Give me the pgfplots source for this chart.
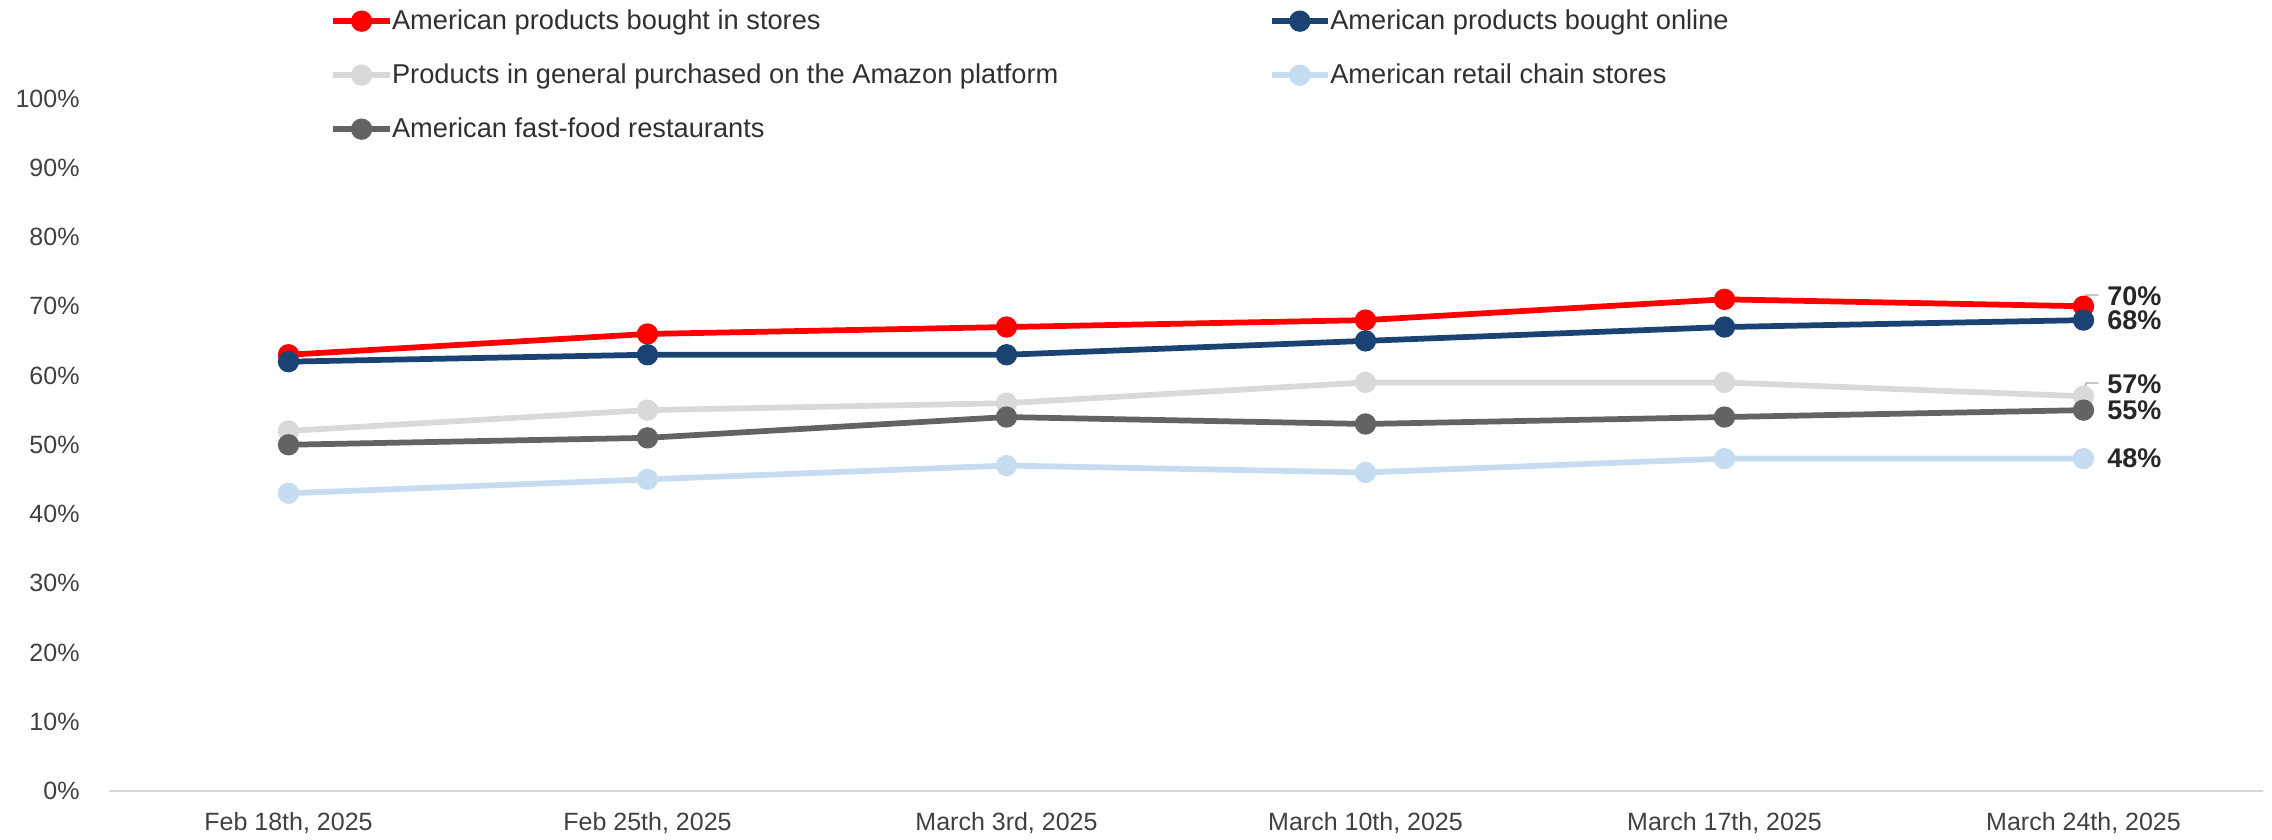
\documentclass[border=0pt]{standalone}
\usepackage{pgfplots}
\pgfplotsset{compat=1.18}
\usepackage{fontspec}
\setmainfont{Liberation Sans}
\definecolor{cRed}{HTML}{FF0000}
\definecolor{cNavy}{HTML}{1A4272}
\definecolor{cLGray}{HTML}{D9D9D9}
\definecolor{cLBlue}{HTML}{C6DDF1}
\definecolor{cDGray}{HTML}{636363}
\definecolor{axisgray}{HTML}{D9D9D9}
\definecolor{txt}{HTML}{404040}
\definecolor{legtxt}{HTML}{303030}
\definecolor{lbl}{HTML}{262626}
\definecolor{leader}{HTML}{A6A6A6}
\begin{document}
\begin{tikzpicture}
\path[use as bounding box] (-43.6pt,-19.2pt) rectangle (865.2pt,316.4pt);
\begin{axis}[
  at={(0pt,0pt)}, anchor=south west,
  scale only axis, width=861.6pt, height=277pt,
  xmin=-0.5, xmax=5.5, ymin=0, ymax=100,
  xtick={0,...,5},
  xticklabels={{Feb 18th, 2025}, {Feb 25th, 2025}, {March 3rd, 2025}, {March 10th, 2025}, {March 17th, 2025}, {March 24th, 2025}},
  ytick={0,10,...,100},
  /pgf/number format/assume math mode=true,
  yticklabel={\pgfmathprintnumber{\tick}\%},
  ticklabel style={font=\fontsize{10}{12}\selectfont, text=txt},
  xticklabel style={anchor=base, yshift=-15.6pt, inner sep=0pt},
  yticklabel style={anchor=east, xshift=-11.6pt, inner sep=0pt},
  axis x line*=bottom, axis y line*=left,
  y axis line style={draw=none},
  x axis line style={draw=axisgray, line width=0.8pt, -},
  major tick length=0pt,
  clip=false,
  every axis plot/.append style={line width=2.3pt, mark=*, mark size=3.1pt, mark options={solid}},
  legend columns=2,
  legend cell align=left,
  legend style={draw=none, fill=none, at={(0.1026,1.0337)}, anchor=west,
    font=\fontsize{10.9}{12}\selectfont, text=legtxt, inner sep=0pt, row sep=8.2pt},
  legend image code/.code={\draw[mark repeat=2,mark phase=2,#1] plot coordinates {(0pt,0pt) (11.3pt,0pt) (22.6pt,0pt)};},
]
\addplot[color=cRed] coordinates {(0,63) (1,66) (2,67) (3,68) (4,71) (5,70)};
\addlegendentry{\hspace*{-2.3pt}\makebox[348.7pt][l]{American products bought in stores}}
\addplot[color=cNavy] coordinates {(0,62) (1,63) (2,63) (3,65) (4,67) (5,68)};
\addlegendentry{\hspace*{-2.3pt}American products bought online}
\addplot[color=cLGray] coordinates {(0,52) (1,55) (2,56) (3,59) (4,59) (5,57)};
\addlegendentry{\hspace*{-2.3pt}\makebox[348.7pt][l]{Products in general purchased on the Amazon platform}}
\addplot[color=cLBlue] coordinates {(0,43) (1,45) (2,47) (3,46) (4,48) (5,48)};
\addlegendentry{\hspace*{-2.3pt}American retail chain stores}
\addplot[color=cDGray] coordinates {(0,50) (1,51) (2,54) (3,53) (4,54) (5,55)};
\addlegendentry{\hspace*{-2.3pt}\makebox[348.7pt][l]{American fast-food restaurants}}

\draw[leader, line width=0.5pt] (axis cs:5,70) ++(0.4pt,1.5pt) -- ++(0.6pt,3pt) -- ++(5pt,0pt);
\draw[leader, line width=0.5pt] (axis cs:5,57) ++(0.4pt,1.5pt) -- ++(0.6pt,3.8pt) -- ++(5pt,0pt);
\begin{scope}[every node/.style={anchor=west, inner sep=0pt, font=\bfseries\fontsize{10.8}{13}\selectfont, text=lbl}]
\node[xshift=9.3pt, yshift=3.9pt] at (axis cs:5,70) {70\%};
\node[xshift=9.3pt] at (axis cs:5,68) {68\%};
\node[xshift=9.3pt, yshift=4.9pt] at (axis cs:5,57) {57\%};
\node[xshift=9.3pt] at (axis cs:5,55) {55\%};
\node[xshift=9.3pt] at (axis cs:5,48) {48\%};
\end{scope}
\end{axis}
\end{tikzpicture}
\end{document}
